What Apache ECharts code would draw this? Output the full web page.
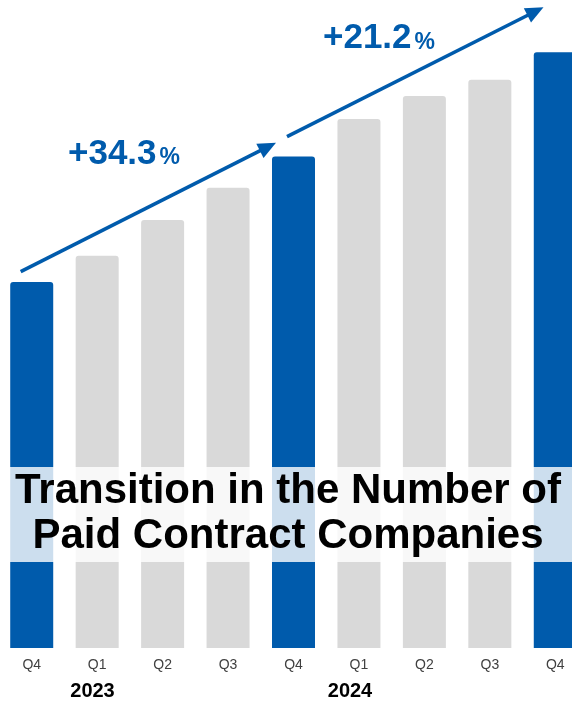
<!DOCTYPE html>
<html>
<head>
<meta charset="utf-8">
<script src="https://cdn.jsdelivr.net/npm/echarts@6/dist/echarts.min.js"></script>
<style>
  html, body { margin: 0; padding: 0; background: #fff; }
  #chart { width: 572px; height: 703px; }
</style>
</head>
<body>
<div id="chart"></div>
<script>
// Quarterly count of paid contract companies (index-style units)
const quarters = ['Q4', 'Q1', 'Q2', 'Q3', 'Q4', 'Q1', 'Q2', 'Q3', 'Q4'];
const companies = [1000, 1072, 1170, 1258, 1343, 1446, 1509, 1553, 1628];
const yearLabels = ['2023', '2024'];
const titleLines = ['Transition in the Number of', 'Paid Contract Companies'];

const BLUE = '#005bac';
const GRAY = '#d9d9d9';
const FONT = "'Liberation Sans', Arial, sans-serif";

// Year-over-year growth between the Q4 bars
function growth(a, b) {
  return '+' + ((companies[b] / companies[a] - 1) * 100).toFixed(1);
}
const growthLabels = [growth(0, 4), growth(4, 8)];

// Build an arrow (shaft + triangular head) between two points
function arrow(x1, y1, x2, y2) {
  const dx = x2 - x1, dy = y2 - y1;
  const len = Math.hypot(dx, dy);
  const ux = dx / len, uy = dy / len;
  const headLen = 18, headHalf = 8;
  const bx = x2 - ux * headLen, by = y2 - uy * headLen;
  return [
    {
      type: 'line', z: 20,
      shape: { x1: x1, y1: y1, x2: bx + ux * 2, y2: by + uy * 2 },
      style: { stroke: BLUE, lineWidth: 3.6 }
    },
    {
      type: 'polygon', z: 20,
      shape: { points: [[x2, y2], [bx - uy * headHalf, by + ux * headHalf], [bx + uy * headHalf, by - ux * headHalf]] },
      style: { fill: BLUE }
    }
  ];
}

// Growth label: large figure followed by a smaller percent sign on the same baseline
function pctText(label, x, y) {
  return {
    type: 'text', z: 20, x: x, y: y,
    style: {
      text: '{big|' + label + '}{small|%}',
      fill: BLUE,
      align: 'left',
      verticalAlign: 'bottom',
      rich: {
        big: { fontFamily: FONT, fontWeight: 'bold', fontSize: 35, fill: BLUE, verticalAlign: 'bottom' },
        small: { fontFamily: FONT, fontWeight: 'bold', fontSize: 23, fill: BLUE, verticalAlign: 'bottom', padding: [0, 0, 2, 3] }
      }
    }
  };
}

const chart = echarts.init(document.getElementById('chart'), null, { renderer: 'canvas' });

const option = {
  backgroundColor: '#ffffff',
  animation: false,
  grid: { left: -1, right: -16, top: 26, bottom: 55, containLabel: false, outerBoundsMode: 'none' },
  xAxis: {
    type: 'category',
    data: quarters,
    axisLine: { show: false },
    axisTick: { show: false },
    axisLabel: { color: '#404040', fontSize: 14, fontFamily: FONT, margin: 10, interval: 0 }
  },
  yAxis: {
    type: 'value', min: 0, max: 1700, show: false,
    splitLine: { show: false }
  },
  series: [{
    type: 'bar',
    barWidth: 43,
    data: companies.map((v, i) => ({
      value: v,
      itemStyle: { color: quarters[i] === 'Q4' ? BLUE : GRAY, borderRadius: [3, 3, 0, 0] }
    })),
    z: 2
  }],
  graphic: [
    // translucent band behind the title
    {
      type: 'rect', z: 30,
      shape: { x: 0, y: 467, width: 572, height: 95 },
      style: { fill: 'rgba(255,255,255,0.8)' }
    },
    {
      type: 'text', z: 31, x: 288, y: 514,
      style: {
        text: titleLines.join('\n'),
        fontFamily: FONT, fontWeight: 'bold', fontSize: 42,
        lineHeight: 45.7, fill: '#000',
        align: 'center', verticalAlign: 'middle'
      }
    },
    ...arrow(20.7, 271.7, 276, 142.7),
    ...arrow(287, 136.7, 543.5, 7.3),
    pctText(growthLabels[0], 68, 171.5),
    pctText(growthLabels[1], 323, 56),
    {
      type: 'text', z: 20, x: 92.5, y: 691,
      style: { text: yearLabels[0], fontFamily: FONT, fontWeight: 'bold', fontSize: 20, fill: '#000', align: 'center', verticalAlign: 'middle' }
    },
    {
      type: 'text', z: 20, x: 350, y: 691,
      style: { text: yearLabels[1], fontFamily: FONT, fontWeight: 'bold', fontSize: 20, fill: '#000', align: 'center', verticalAlign: 'middle' }
    }
  ]
};

chart.setOption(option);
</script>
</body>
</html>
